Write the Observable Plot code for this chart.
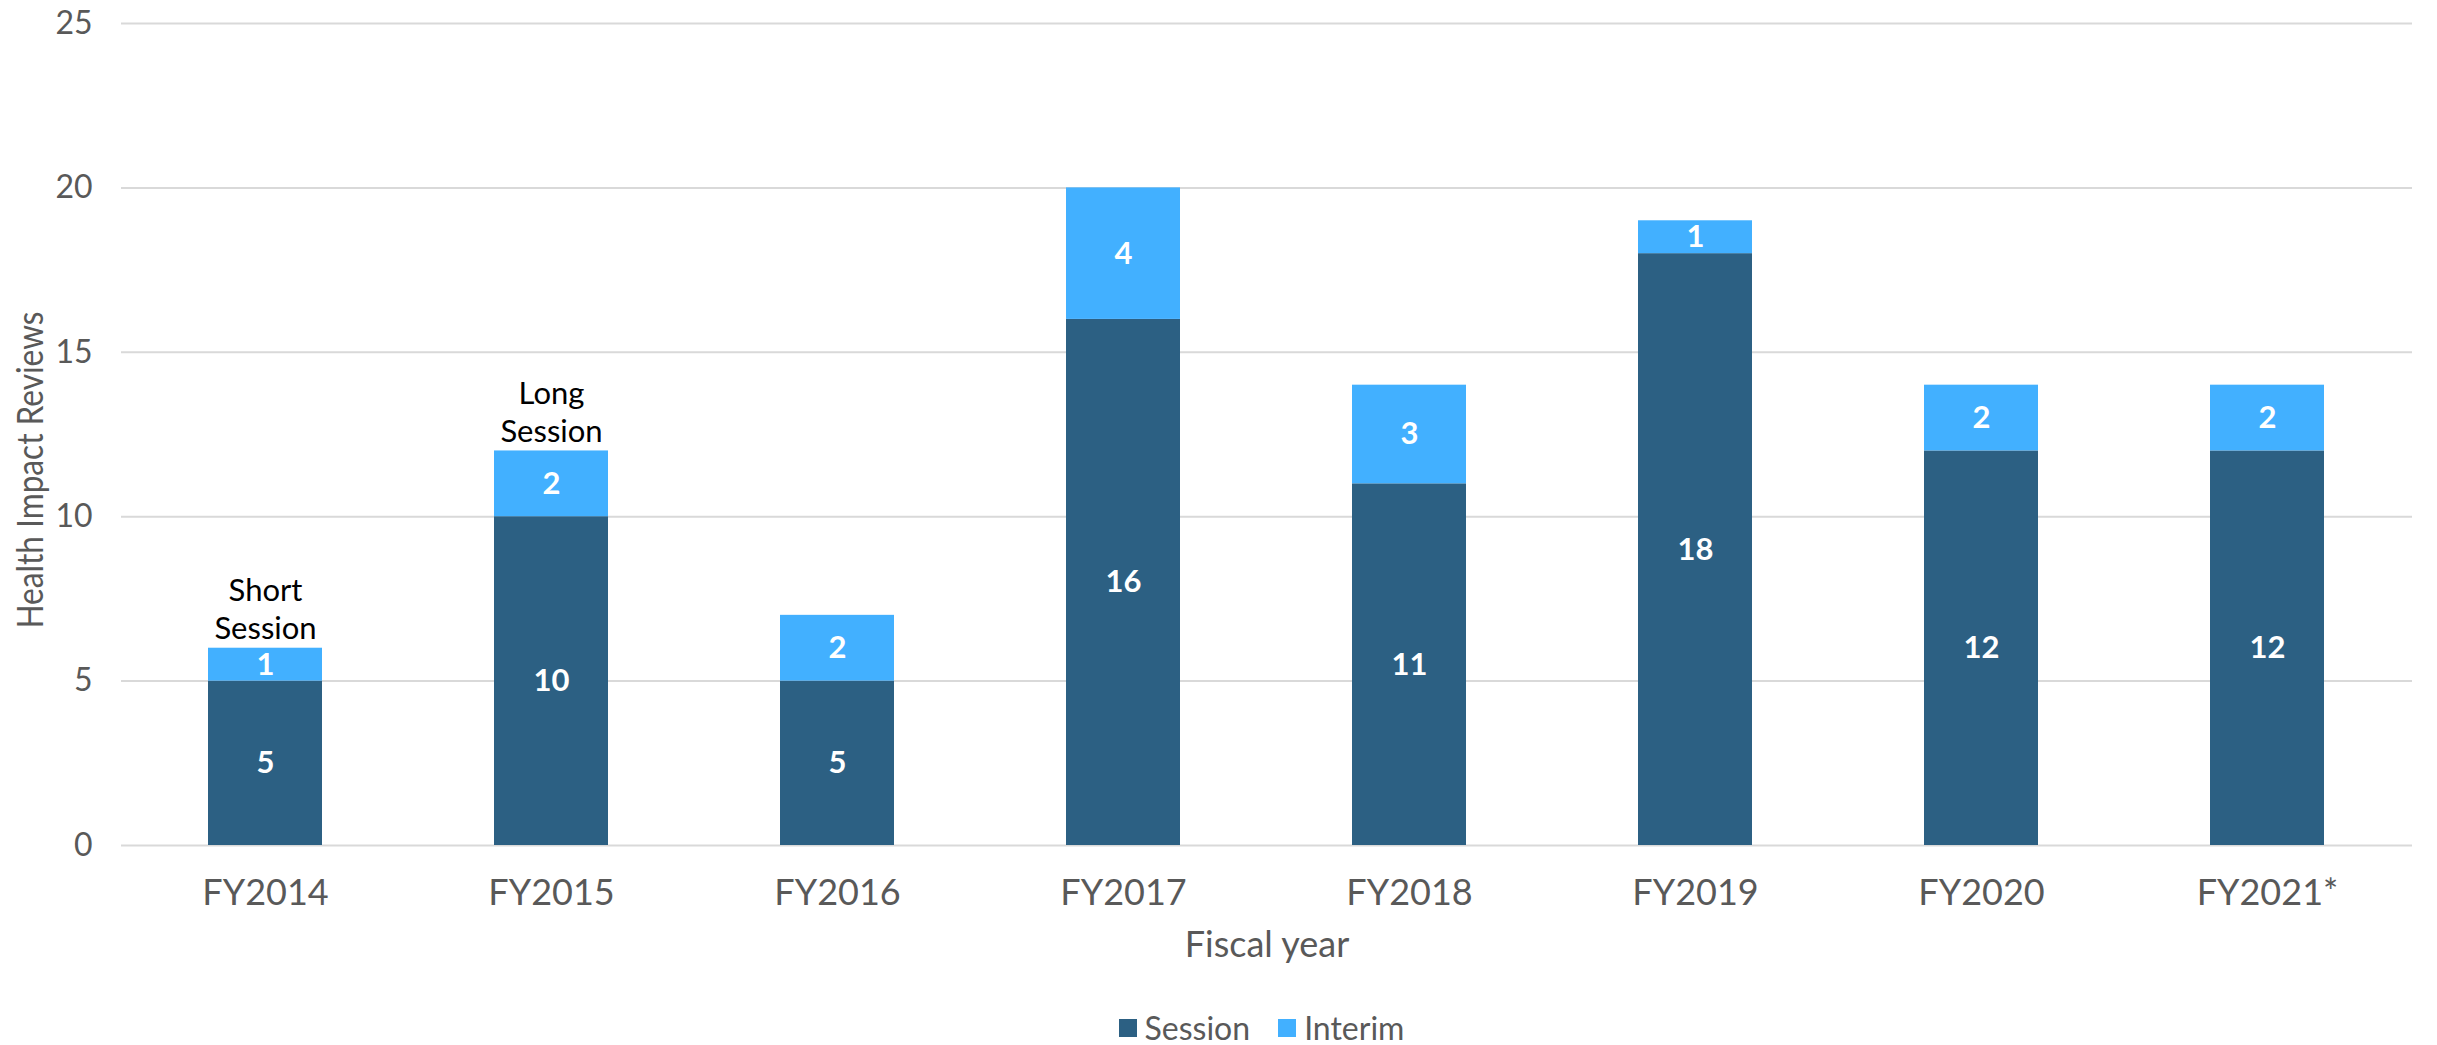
<!DOCTYPE html>
<html>
<head>
<meta charset="utf-8">
<script src="https://cdn.jsdelivr.net/npm/d3@7"></script>
<script src="https://cdn.jsdelivr.net/npm/@observablehq/plot@0.6"></script>
<style>
  html, body { margin: 0; padding: 0; background: #fff; }
  #wrap { position: relative; width: 2437px; }
  #chart svg { display: block; overflow: visible; }
  #ytitle {
    position: absolute; white-space: nowrap; line-height: 1;
    font-family: Lato, "Open Sans", sans-serif; font-size: 36px; color: #595959;
    transform-origin: 50% 50%;
  }
  #legend {
    box-sizing: border-box; width: 2437px; height: 35px; padding-left: 86px;
    display: flex; justify-content: center; align-items: center;
    font-family: Lato, "Open Sans", sans-serif; font-size: 32px; color: #595959;
  }
  .item { display: flex; align-items: center; margin: 0 14px; }
  .sw { width: 18px; height: 18px; margin-right: 8px; }
</style>
</head>
<body>
<div id="wrap">
  <div id="chart"></div>
  <div id="ytitle"></div>
  <div id="legend"></div>
</div>
<script>
const years = ["FY2014", "FY2015", "FY2016", "FY2017", "FY2018", "FY2019", "FY2020", "FY2021*"];
const session = [5, 10, 5, 16, 11, 18, 12, 12];
const interim = [1, 2, 2, 4, 3, 1, 2, 2];
const seriesNames = ["Session", "Interim"];
const seriesColors = ["#2c6083", "#42b0ff"];
const yTicks = [0, 5, 10, 15, 20, 25];
const annotationYears = ["FY2014", "FY2015"];
const annotationTexts = ["Short\nSession", "Long\nSession"];
const yTitle = "Health Impact Reviews";
const xTitle = "Fiscal year";

const rows = [];
years.forEach((yr, i) => {
  rows.push({year: yr, type: seriesNames[0], value: session[i]});
  rows.push({year: yr, type: seriesNames[1], value: interim[i]});
});
const annotations = annotationYears.map((yr, k) => {
  const i = years.indexOf(yr);
  return {year: yr, total: session[i] + interim[i], label: annotationTexts[k]};
});

const W = 2437, H = 1010;
const chart = Plot.plot({
  width: W,
  height: H,
  marginLeft: 121,
  marginRight: 25,
  marginTop: 23,
  marginBottom: 165,
  style: {fontFamily: "Lato, 'Open Sans', sans-serif", background: "white"},
  x: {domain: years, paddingInner: 0.6, paddingOuter: 0.3, label: null},
  y: {domain: [0, 25], label: null},
  color: {domain: seriesNames, range: seriesColors},
  marks: [
    Plot.gridY(yTicks, {stroke: "#d9d9d9", strokeOpacity: 1, strokeWidth: 2}),
    Plot.barY(rows, {x: "year", y: "value", fill: "type"}),
    Plot.text(rows, Plot.stackY({x: "year", y: "value", text: "value", fill: "white", fontWeight: "bold", fontSize: 31})),
    Plot.text(annotations, {x: "year", y: "total", text: "label", lineAnchor: "bottom", lineHeight: 1.22, dy: -9, fontSize: 31, fill: "black"}),
    Plot.axisY(yTicks, {tickSize: 0, tickPadding: 29, fontSize: 32, color: "#595959", label: null}),
    Plot.axisX({tickSize: 0, tickPadding: 34, fontSize: 36, color: "#595959", label: null}),
    Plot.text([xTitle], {frameAnchor: "bottom", lineAnchor: "bottom", dy: 111, fontSize: 36, fill: "#595959"})
  ]
});
document.getElementById("chart").appendChild(chart);

// Rotated y-axis title placed as HTML text, centred at (28, 470), condensed to ~317px long
const yt = document.getElementById("ytitle");
yt.textContent = yTitle;
const w = yt.offsetWidth, h = yt.offsetHeight;
const sx = w > 0 ? 317 / w : 1;
yt.style.left = (28 - w / 2) + "px";
yt.style.top = (470 - h / 2) + "px";
yt.style.transform = `rotate(-90deg) scaleX(${sx})`;

const legend = document.getElementById("legend");
seriesNames.forEach((name, i) => {
  const item = document.createElement("div");
  item.className = "item";
  const sw = document.createElement("div");
  sw.className = "sw";
  sw.style.background = seriesColors[i];
  const lab = document.createElement("span");
  lab.textContent = name;
  item.appendChild(sw);
  item.appendChild(lab);
  legend.appendChild(item);
});
</script>
</body>
</html>
